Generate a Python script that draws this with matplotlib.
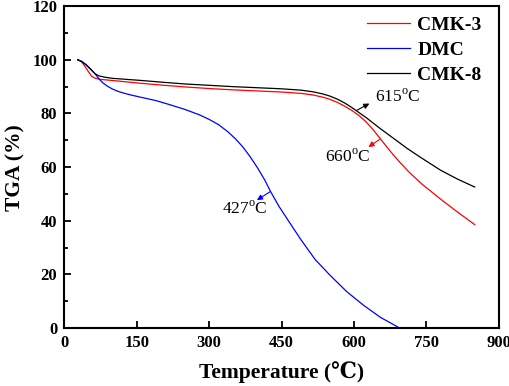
import matplotlib
matplotlib.use("Agg")
import matplotlib.pyplot as plt
from matplotlib.ticker import MultipleLocator

plt.rcParams["font.family"] = ["Liberation Serif", "DejaVu Serif"]
plt.rcParams["mathtext.fontset"] = "custom"
plt.rcParams["mathtext.rm"] = "Liberation Serif"

# TGA curves (temperature in degC, weight in %)
cmk3_t = [28, 35, 42, 50, 57, 65, 75, 100, 150, 200, 250, 300, 350, 400, 450,
          490, 515, 535, 550, 565, 580, 595, 610, 625, 640, 655, 675, 695, 715,
          740, 780, 815, 850]
cmk3_w = [100, 99.4, 97.8, 95.6, 93.8, 93.1, 92.7, 92.3, 91.4, 90.6, 89.9, 89.3,
          88.8, 88.4, 88.0, 87.5, 86.9, 86.1, 85.3, 84.2, 82.8, 81.2, 79.3, 76.9,
          73.9, 70.5, 66.0, 61.8, 58.0, 53.8, 48.0, 43.2, 38.6]

dmc_t = [28, 35, 45, 55, 65, 72, 80, 90, 100, 112, 125, 140, 160, 190, 220, 250,
         280, 300, 320, 340, 355, 370, 385, 400, 415, 427, 445, 465, 490, 520,
         550, 585, 620, 655, 700]
dmc_w = [100, 99.5, 98.2, 96.5, 94.5, 92.9, 91.4, 90.1, 89.1, 88.2, 87.5, 86.8,
         86.0, 84.8, 83.2, 81.5, 79.5, 77.8, 75.8, 73.0, 70.5, 67.5, 63.9, 59.8,
         55.3, 51.0, 45.3, 39.8, 33.0, 25.5, 19.8, 13.6, 8.5, 4.0, -0.5]

cmk8_t = [28, 36, 45, 55, 64, 72, 85, 100, 130, 160, 200, 250, 300, 350, 400,
          450, 490, 515, 535, 550, 565, 580, 595, 610, 625, 640, 655, 680, 710,
          740, 780, 815, 850]
cmk8_w = [100, 99.4, 98.2, 96.4, 94.8, 94.0, 93.5, 93.1, 92.7, 92.3, 91.7, 91.0,
          90.5, 90.0, 89.6, 89.2, 88.7, 88.1, 87.3, 86.5, 85.4, 84.0, 82.3, 80.4,
          78.5, 76.4, 74.3, 71.0, 67.0, 63.4, 58.8, 55.5, 52.6]

fig = plt.figure(figsize=(5.1, 3.86), dpi=100)
ax = fig.add_axes([0.126, 0.150, 0.852, 0.834])

ax.plot(cmk3_t, cmk3_w, color="red", lw=0.9, label="CMK-3")
ax.plot(dmc_t, dmc_w, color="blue", lw=0.9, label="DMC")
ax.plot(cmk8_t, cmk8_w, color="black", lw=0.9, label="CMK-8")

ax.set_xlim(0, 900)
ax.set_ylim(0, 120)
ax.xaxis.set_major_locator(MultipleLocator(150))
ax.yaxis.set_major_locator(MultipleLocator(20))
ax.yaxis.set_minor_locator(MultipleLocator(10))
ax.tick_params(which="both", direction="in", top=False, right=False, width=1.3)
ax.tick_params(which="major", length=5, labelsize=12, pad=5)
ax.tick_params(which="minor", length=3)
for lab in ax.get_xticklabels() + ax.get_yticklabels():
    lab.set_fontweight("bold")
for sp in ax.spines.values():
    sp.set_linewidth(1.5)

ax.set_xlabel("Temperature (℃)", fontsize=15.5, fontweight="bold", labelpad=7)
ax.set_ylabel("TGA (%)", fontsize=15.5, fontweight="bold", labelpad=5)

leg = ax.legend(loc="upper left", bbox_to_anchor=(0.696, 0.968), frameon=False,
                prop={"weight": "bold", "size": 14}, handlelength=2.25,
                handletextpad=0.35, labelspacing=0.37, borderpad=0, borderaxespad=0)

arrow = dict(arrowstyle="-|>", lw=0.8, mutation_scale=8, shrinkA=0, shrinkB=0)
ax.annotate("", xy=(632, 83.7), xytext=(606, 81.2),
            arrowprops=dict(arrow, color="black"))
ax.text(644, 86.0, "615$^{\\rm o}$C", fontsize=12.5, ha="left", va="center")
ax.annotate("", xy=(630, 67.5), xytext=(653, 70.3),
            arrowprops=dict(arrow, color="red"))
ax.text(635, 63.8, "660$^{\\rm o}$C", fontsize=12.5, ha="right", va="center")
ax.annotate("", xy=(399, 47.7), xytext=(426, 50.8),
            arrowprops=dict(arrow, color="blue"))
ax.text(374, 44.6, "427$^{\\rm o}$C", fontsize=12.5, ha="center", va="center")

fig.savefig("out.png", dpi=100)
